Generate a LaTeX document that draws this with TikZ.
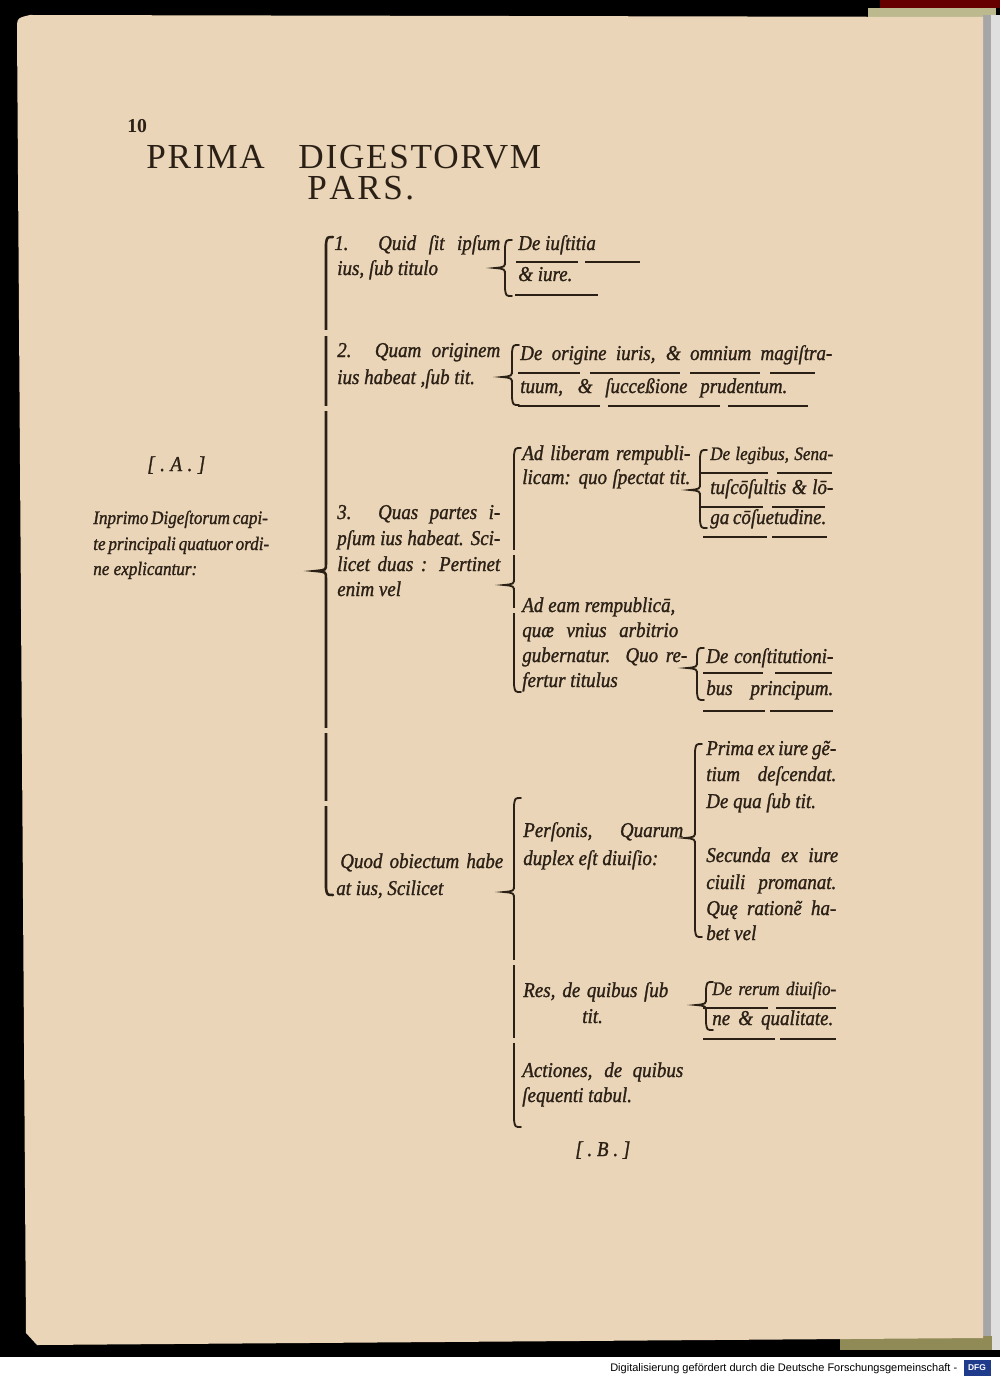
\documentclass[tikz,border=0pt]{standalone}
\usepackage{fontspec}
\setmainfont{Liberation Serif}
\setsansfont{Liberation Sans}
\newfontfamily\oldit{Liberation Serif}[FakeStretch=0.9,FakeBold=1.2]
\newfontfamily\headfont{Liberation Serif}[LetterSpace=5]
\definecolor{paper}{HTML}{EAD5B8}
\definecolor{ink}{HTML}{2B2016}
\definecolor{dfgblue}{HTML}{1F3C8C}
\newlength\pxu \setlength\pxu{0.025cm}
\newcommand\jl[2]{\makebox[#1\pxu][s]{#2}}
% brace: x, top, tip, bottom
\newcommand\cbrace[5][]{%
  \draw[brk,#1] (#2+7,#3) .. controls (#2+1,#3) .. (#2,#3+7) -- (#2,#4-7)
    .. controls (#2,#4-1) .. (#2-10,#4) .. controls (#2,#4+1) .. (#2,#4+7)
    -- (#2,#5-7) .. controls (#2+1,#5) .. (#2+7,#5);}
\tikzset{
  txt/.style={anchor=base west,inner sep=0pt,text=ink,font={\fontsize{15}{17}\oldit\itshape}},
  txts/.style={txt,font={\fontsize{13.5}{16}\oldit\itshape}},
  headtxt/.style={anchor=base west,inner sep=0pt,text=ink,font={\fontsize{25}{27}\headfont}},
  brk/.style={draw=ink,line width=1.3pt,line cap=round},
  ul/.style={draw=ink,line width=0.9pt},
}
\begin{document}
\begin{tikzpicture}[x=0.025cm,y=-0.025cm]
  \useasboundingbox (0,0) rectangle (1000,1378);
  % scan background
  \fill[black] (0,0) rectangle (1000,1357);
  \fill[white] (0,1357) rectangle (1000,1378);
  \fill[red!40!black] (880,0) rectangle (1000,8);
  \fill[gray!60!olive!60] (868,8) rectangle (996,18);
  \fill[gray!70] (983,15) rectangle (991,1350);
  \fill[gray!25] (991,15) rectangle (1000,1350);
  \fill[olive!40!gray] (840,1336) rectangle (992,1350);
  \fill[paper] (17,30) .. controls (17,18) .. (30,15) -- (983,17) -- (983,1338)
    -- (37,1345) -- (26,1333) -- cycle;

  % heading
  \node[anchor=base west,inner sep=0pt,text=ink,font={\fontsize{14}{16}\selectfont\bfseries}] (pgno) at (127,133) {10};
  \node[headtxt] (title) at (146,169) {\jl{395}{PRIMA DIGESTORVM}};
  \node[headtxt] (pars) at (307,200) {\jl{107}{P\hfil A\hfil R\hfil S\hfil.}};

  % left column
  \node[txt] (lA) at (147,471) {\jl{58}{[\hfil.\hfil A\hfil.\hfil]}};
  \node[txts] (in1) at (93,524) {\jl{169}{Inprimo Digeſtorum capi-}};
  \node[txts] (in2) at (93,550) {\jl{169}{te principali quatuor ordi-}};
  \node[txts] (in3) at (93,575) {ne explicantur:};

  % first level
  \cbrace[line width=1.8pt]{326}{237}{571}{895}
  \foreach \g in {333,408,730,803}
    \fill[paper] (320,\g-2.5) rectangle (332,\g+2.5);

  \node[txt] (q1a) at (334,250) {\jl{166}{1. Quid ſit ipſum}};
  \node[txt] (q1b) at (337,275) {ius, ſub titulo};
  \node[txt] (q2a) at (337,357) {\jl{163}{2. Quam originem}};
  \node[txt] (q2b) at (337,384) {ius habeat ,ſub tit.};
  \node[txt] (q3a) at (337,519) {\jl{163}{3. Quas partes i-}};
  \node[txt] (q3b) at (337,545) {\jl{163}{pſum ius habeat. Sci-}};
  \node[txt] (q3c) at (337,571) {\jl{163}{licet duas : Pertinet}};
  \node[txt] (q3d) at (337,596) {enim vel};
  \node[txt] (q4a) at (340,868) {\jl{163}{Quod obiectum habe}};
  \node[txt] (q4b) at (336,895) {at ius, Scilicet};

  % 1. and 2.
  \cbrace{505}{240}{268}{296}
  \node[txt] (t1a) at (518,250) {De iuſtitia};
  \node[txt] (t1b) at (518,281) {\& iure.};
  \cbrace{512}{345}{377}{405}
  \node[txt] (t2a) at (520,360) {\jl{312}{De origine iuris, \& omnium magiſtra-}};
  \node[txt] (t2b) at (520,393) {\jl{267}{tuum, \& ſucceßione prudentum.}};

  % 3.
  \cbrace{514}{448}{585}{692}
  \foreach \g in {552,610}
    \fill[paper] (509,\g-2.5) rectangle (519,\g+2.5);
  \node[txt] (p1a) at (522,460) {\jl{168}{Ad liberam rempubli-}};
  \node[txt] (p1b) at (522,484) {\jl{168}{licam: quo ſpectat tit.}};
  \cbrace{700}{450}{490}{528}
  \node[txts] (s1a) at (710,460) {\jl{123}{De legibus, Sena-}};
  \node[txt] (s1b) at (710,494) {\jl{123}{tuſcōſultis \& lō-}};
  \node[txt] (s1c) at (710,524) {\jl{116}{ga cōſuetudine.}};
  \node[txt] (p2a) at (522,612) {\jl{153}{Ad eam rempublicā,}};
  \node[txt] (p2b) at (522,637) {\jl{156}{quæ vnius arbitrio}};
  \node[txt] (p2c) at (522,662) {\jl{165}{gubernatur. Quo re-}};
  \node[txt] (p2d) at (522,687) {fertur titulus};
  \cbrace{697}{648}{668}{700}
  \node[txt] (s2a) at (706,663) {\jl{127}{De conſtitutioni-}};
  \node[txt] (s2b) at (706,695) {\jl{127}{bus principum.}};

  % object
  \cbrace{514}{798}{892}{1127}
  \foreach \g in {962,1040}
    \fill[paper] (509,\g-2.5) rectangle (519,\g+2.5);
  \node[txt] (r1a) at (523,837) {\jl{160}{Perſonis, Quarum}};
  \node[txt] (r1b) at (523,865) {duplex eſt diuiſio:};
  \cbrace{695}{744}{838}{937}
  \node[txt] (k1a) at (706,755) {\jl{130}{Prima ex iure gẽ-}};
  \node[txt] (k1b) at (706,781) {\jl{130}{tium deſcendat.}};
  \node[txt] (k1c) at (706,808) {De qua ſub tit.};
  \node[txt] (k2a) at (706,862) {\jl{132}{Secunda ex iure}};
  \node[txt] (k2b) at (706,889) {\jl{130}{ciuili promanat.}};
  \node[txt] (k2c) at (706,915) {\jl{130}{Quę rationẽ ha-}};
  \node[txt] (k2d) at (706,940) {bet vel};
  \node[txt] (r2a) at (523,997) {\jl{145}{Res, de quibus ſub}};
  \node[txt] (r2b) at (582,1023) {tit.};
  \cbrace{706}{982}{1005}{1030}
  \node[txts] (k3a) at (712,995) {\jl{124}{De rerum diuiſio-}};
  \node[txt] (k3b) at (712,1025) {\jl{121}{ne \& qualitate.}};
  \node[txt] (r3a) at (522,1077) {\jl{161}{Actiones, de quibus}};
  \node[txt] (r3b) at (522,1102) {ſequenti tabul.};
  \node[txt] (lB) at (575,1156) {\jl{55}{[\hfil.\hfil B\hfil.\hfil]}};

  % underlines of the titles
  \foreach \y/\a/\b in {262/516/578, 262/585/640, 295/515/598,
      373/518/580, 373/590/680, 373/690/760, 373/770/815,
      406/518/600, 406/608/720, 406/728/808,
      473/700/768, 473/777/832, 507/700/763, 507/772/825,
      537/703/767, 537/772/827,
      673/703/763, 673/775/832, 711/703/765, 711/770/833,
      1008/703/768, 1008/776/836, 1039/703/775, 1039/780/836}
    \draw[ul] (\a,\y) -- (\b,\y);

  % footer
  \node[anchor=base west,inner sep=0pt,font=\sffamily] (foot) at (610,1371)
    {\resizebox{347\pxu}{!}{Digitalisierung gefördert durch die Deutsche Forschungsgemeinschaft -}};
  \node[fill=dfgblue,text=white,inner sep=0pt,minimum width=27\pxu,minimum height=16\pxu,
    font={\sffamily\bfseries\fontsize{6}{6}\selectfont}] (dfg) at (977,1368) {DFG};
\end{tikzpicture}
\end{document}
